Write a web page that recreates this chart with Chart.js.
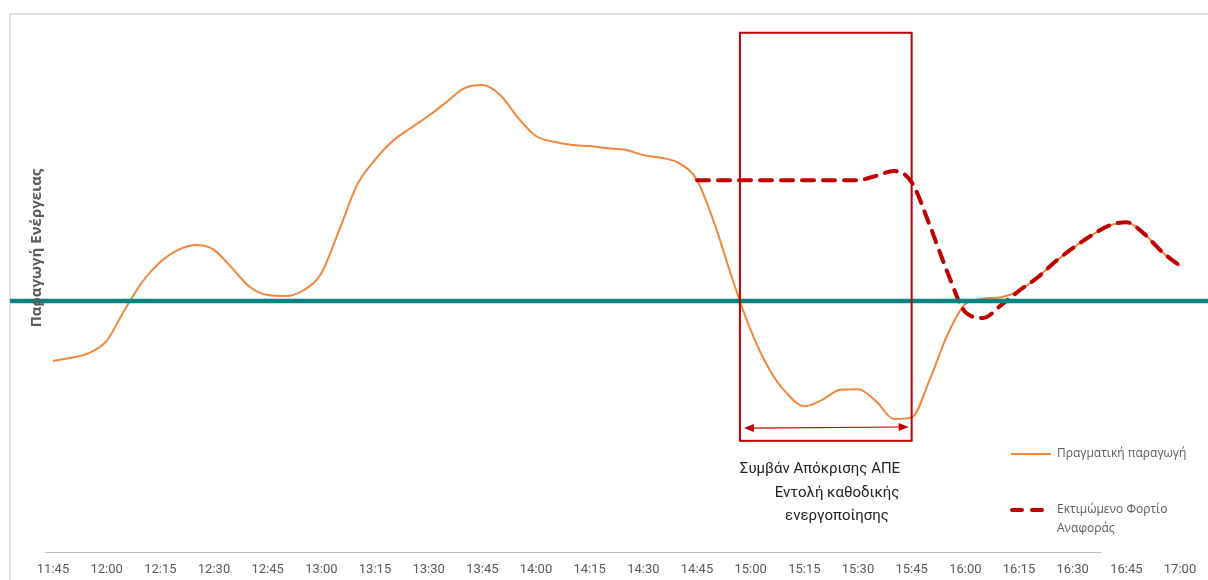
<!DOCTYPE html>
<html>
<head>
<meta charset="utf-8">
<script src="https://cdn.jsdelivr.net/npm/chart.js@4.4.0/dist/chart.umd.min.js"></script>
<style>
  html, body { margin: 0; padding: 0; background: #fff; }
  #wrap { width: 1208px; height: 580px; position: relative; }
</style>
</head>
<body>
<div id="wrap"><canvas id="chart"></canvas></div>
<script>
// Χρόνοι (ανά 5 λεπτά)
const times = [
  '11:45','11:50','11:55','12:00','12:05','12:10','12:15','12:20','12:25','12:30','12:35','12:40',
  '12:45','12:50','12:55','13:00','13:05','13:10','13:15','13:20','13:25','13:30','13:35','13:40',
  '13:45','13:50','13:55','14:00','14:05','14:10','14:15','14:20','14:25','14:30','14:35','14:40',
  '14:45','14:50','14:55','15:00','15:05','15:10','15:15','15:20','15:25','15:30','15:35','15:40',
  '15:45','15:50','15:55','16:00','16:05','16:10','16:15','16:20','16:25','16:30','16:35','16:40',
  '16:45','16:50','16:55','17:00'
];

// Πραγματική παραγωγή
const actual = [
  35.9, 36.5, 37.4, 39.7, 45.5, 50.8, 54.5, 56.8, 57.7, 56.8, 53.4, 49.8,
  48.3, 48.1, 49.2, 52.4, 60.5, 69.0, 73.7, 77.3, 79.7, 82.0, 84.6, 87.2,
  87.8, 85.9, 81.6, 78.2, 77.1, 76.5, 76.3, 75.9, 75.6, 74.6, 74.1, 73.1,
  69.9, 61.5, 51.1, 41.7, 34.6, 29.9, 27.4, 28.6, 30.5, 30.6, 28.4, 25.0,
  25.3, 32.3, 40.8, 46.6, 47.6, 47.9, 49.1, 51.5, 54.5, 57.1, 59.4, 61.3,
  62.0, 59.8, 56.4, 53.8
];

// Εκτιμώμενο Φορτίο Αναφοράς
const baseline = [
  null, null, null, null, null, null, null, null, null, null, null, null,
  null, null, null, null, null, null, null, null, null, null, null, null,
  null, null, null, null, null, null, null, null, null, null, null, null,
  69.9, 69.9, 69.9, 69.9, 69.9, 69.9, 69.9, 69.9, 69.9, 69.9, 70.7, 71.6,
  69.5, 61.5, 52.6, 45.1, 44.0, 46.4, 49.1, 51.5, 54.5, 57.1, 59.4, 61.3,
  62.0, 59.8, 56.4, 53.8
];

const tickTimes = ['11:45','12:00','12:15','12:30','12:45','13:00','13:15','13:30','13:45','14:00','14:15',
  '14:30','14:45','15:00','15:15','15:30','15:45','16:00','16:15','16:30','16:45','17:00'];

const referenceLevel = 47.2;          // οριζόντια γραμμή
const eventWindow = ['14:57', '15:45']; // πλαίσιο συμβάντος
const eventRange = [20.9, 97.6];
const arrowLevel = [23.3, 23.5];

const colors = {
  actual: '#f4863b',
  baseline: '#c00000',
  teal: '#0b8383',
  text: '#595959'
};

function toIdx(t) {
  const [h, m] = t.split(':').map(Number);
  return ((h * 60 + m) - (11 * 60 + 45)) / 5;
}

const overlay = {
  id: 'overlay',
  beforeDraw(chart) {
    const c = chart.ctx;
    c.save();
    c.strokeStyle = '#d9d9d9';
    c.lineWidth = 1.5;
    c.strokeRect(10, 14, 1240, 600);
    c.restore();
  },
  afterDatasetsDraw(chart) {
    const c = chart.ctx;
    const x = chart.scales.x, y = chart.scales.y;
    c.save();

    // γραμμή αναφοράς
    const ty = y.getPixelForValue(referenceLevel);
    c.strokeStyle = colors.teal;
    c.lineWidth = 4.5;
    c.beginPath(); c.moveTo(10, ty); c.lineTo(1208, ty); c.stroke();

    // πλαίσιο συμβάντος
    const x0 = x.getPixelForValue(toIdx(eventWindow[0]));
    const x1 = x.getPixelForValue(toIdx(eventWindow[1]));
    const y0 = y.getPixelForValue(eventRange[1]);
    const y1 = y.getPixelForValue(eventRange[0]);
    c.strokeStyle = colors.baseline;
    c.lineWidth = 2;
    c.strokeRect(x0, y0, x1 - x0, y1 - y0);

    // βέλος
    const ay0 = y.getPixelForValue(arrowLevel[0]);
    const ay1 = y.getPixelForValue(arrowLevel[1]);
    const ax0 = x0 + 4, ax1 = x1 - 3;
    c.lineWidth = 1.2;
    c.beginPath(); c.moveTo(ax0 + 8, ay0); c.lineTo(ax1 - 8, ay1); c.stroke();
    c.fillStyle = colors.baseline;
    c.beginPath(); c.moveTo(ax0, ay0); c.lineTo(ax0 + 10, ay0 - 4); c.lineTo(ax0 + 10, ay0 + 4); c.closePath(); c.fill();
    c.beginPath(); c.moveTo(ax1, ay1); c.lineTo(ax1 - 10, ay1 - 4); c.lineTo(ax1 - 10, ay1 + 4); c.closePath(); c.fill();

    // άξονας x
    const by = chart.chartArea.bottom;
    c.strokeStyle = '#bfbfbf';
    c.lineWidth = 1;
    c.beginPath(); c.moveTo(45, by + 0.5); c.lineTo(1102, by + 0.5); c.stroke();

    // κείμενο συμβάντος
    c.fillStyle = '#222';
    c.font = '15px Roboto, "Noto Sans", sans-serif';
    c.textAlign = 'center';
    c.textBaseline = 'middle';
    c.fillText('Συμβάν Απόκρισης ΑΠΕ', 820, 469);
    c.fillText('Εντολή καθοδικής', 837, 493);
    c.fillText('ενεργοποίησης', 837, 516);

    // τίτλος άξονα y
    c.save();
    c.translate(37, 248);
    c.rotate(-Math.PI / 2);
    c.fillStyle = '#595959';
    c.font = 'bold 15px "Open Sans", "Noto Sans", sans-serif';
    c.fillText('Παραγωγή Ενέργειας', 0, 0);
    c.restore();

    // υπόμνημα
    c.textAlign = 'left';
    c.font = '12px "Open Sans", "Noto Sans", sans-serif';
    c.fillStyle = '#595959';
    c.strokeStyle = colors.actual;
    c.lineWidth = 2;
    c.beginPath(); c.moveTo(1011, 454); c.lineTo(1051, 454); c.stroke();
    c.fillText('Πραγματική παραγωγή', 1057, 454);

    c.strokeStyle = colors.baseline;
    c.lineWidth = 4;
    c.lineCap = 'round';
    c.setLineDash([10, 10]);
    c.beginPath(); c.moveTo(1012, 510); c.lineTo(1048, 510); c.stroke();
    c.setLineDash([]);
    c.fillText('Εκτιμώμενο Φορτίο', 1057, 510);
    c.fillText('Αναφοράς', 1057, 529);

    c.restore();
  }
};

new Chart(document.getElementById('chart'), {
  type: 'line',
  data: {
    labels: times,
    datasets: [
      {
        label: 'Εκτιμώμενο Φορτίο Αναφοράς',
        data: baseline,
        borderColor: colors.baseline,
        borderWidth: 4,
        borderDash: [12, 9],
        borderCapStyle: 'round',
        pointRadius: 0,
        cubicInterpolationMode: 'monotone',
        spanGaps: false,
        order: 1
      },
      {
        label: 'Πραγματική παραγωγή',
        data: actual,
        borderColor: colors.actual,
        borderWidth: 2,
        pointRadius: 0,
        cubicInterpolationMode: 'monotone',
        order: 2
      }
    ]
  },
  options: {
    responsive: true,
    maintainAspectRatio: false,
    animation: false,
    layout: { padding: { left: 53, right: 28, top: 20, bottom: 0 } },
    plugins: {
      legend: { display: false },
      tooltip: { enabled: false }
    },
    scales: {
      x: {
        type: 'category',
        offset: false,
        grid: { display: false, drawTicks: false },
        border: { display: false },
        afterFit(scale) { scale.height = 28; },
        ticks: {
          autoSkip: false,
          maxRotation: 0,
          padding: 10,
          color: colors.text,
          font: { family: 'Roboto', size: 13 },
          callback(value, index) {
            const t = times[index];
            return tickTimes.includes(t) ? t : null;
          }
        }
      },
      y: {
        display: false,
        min: 0,
        max: 100
      }
    }
  },
  plugins: [overlay]
});
</script>
</body>
</html>
